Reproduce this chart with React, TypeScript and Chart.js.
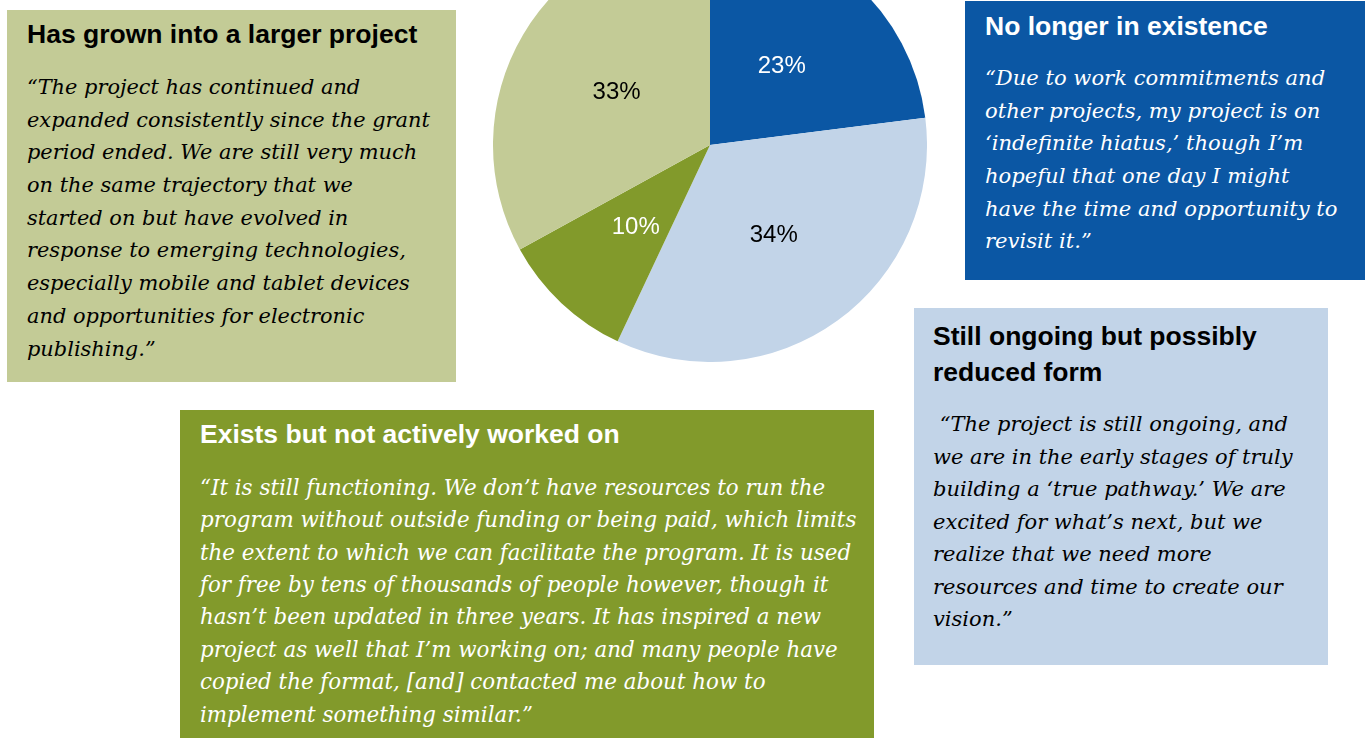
import React, { useEffect, useRef } from "react";
import { Chart, registerables } from "chart.js";

Chart.register(...registerables);

const categories = [
  "No longer in existence",
  "Still ongoing but possibly reduced form",
  "Exists but not actively worked on",
  "Has grown into a larger project",
];
const values = [23, 34, 10, 33];
const sliceColors = ["#0B57A4", "#C2D4E8", "#829A2B", "#C3CB96"];
const labelColors = ["#FFFFFF", "#000000", "#FFFFFF", "#000000"];

const grownHeading = ["Has grown into a larger project"];
const grownQuote = [
  "\u201CThe project has continued and",
  "expanded consistently since the grant",
  "period ended. We are still very much",
  "on the same trajectory that we",
  "started on but have evolved in",
  "response to emerging technologies,",
  "especially mobile and tablet devices",
  "and opportunities for electronic",
  "publishing.\u201D",
];
const goneHeading = ["No longer in existence"];
const goneQuote = [
  "\u201CDue to work commitments and",
  "other projects, my project is on",
  "\u2018indefinite hiatus,\u2019 though I\u2019m",
  "hopeful that one day I might",
  "have the time and opportunity to",
  "revisit it.\u201D",
];
const idleHeading = ["Exists but not actively worked on"];
const idleQuote = [
  "\u201CIt is still functioning. We don\u2019t have resources to run the",
  "program without outside funding or being paid, which limits",
  "the extent to which we can facilitate the program. It is used",
  "for free by tens of thousands of people however, though it",
  "hasn\u2019t been updated in three years. It has inspired a new",
  "project as well that I\u2019m working on; and many people have",
  "copied the format, [and] contacted me about how to",
  "implement something similar.\u201D",
];
const ongoingHeading = ["Still ongoing but possibly", "reduced form"];
const ongoingQuote = [
  "\u00A0\u201CThe project is still ongoing, and",
  "we are in the early stages of truly",
  "building a \u2018true pathway.\u2019 We are",
  "excited for what\u2019s next, but we",
  "realize that we need more",
  "resources and time to create our",
  "vision.\u201D",
];

const HEAD_FONT = "'Liberation Sans', Arial, sans-serif";
const QUOTE_FONT = "'DejaVu Serif', Georgia, serif";

type BoxProps = {
  left: number;
  top: number;
  width: number;
  height: number;
  bg: string;
  color: string;
  padTop: number;
  padLeft: number;
  headLH: number;
  gap: number;
  quoteLH: number;
  quoteSize: number;
  heading: string[];
  quote: string[];
};

function Box(p: BoxProps) {
  return (
    <div
      style={{
        position: "absolute",
        left: p.left,
        top: p.top,
        width: p.width,
        height: p.height,
        background: p.bg,
        color: p.color,
        boxSizing: "border-box",
        paddingTop: p.padTop,
        paddingLeft: p.padLeft,
        overflow: "hidden",
      }}
    >
      {p.heading.map((h, i) => (
        <div
          key={"h" + i}
          style={{
            fontFamily: HEAD_FONT,
            fontWeight: "bold",
            fontSize: 26.5,
            lineHeight: p.headLH + "px",
            height: p.headLH,
            whiteSpace: "nowrap",
          }}
        >
          {h}
        </div>
      ))}
      <div style={{ height: p.gap }} />
      {p.quote.map((q, i) => (
        <div
          key={"q" + i}
          style={{
            fontFamily: QUOTE_FONT,
            fontStyle: "italic",
            fontSize: p.quoteSize,
            lineHeight: p.quoteLH + "px",
            height: p.quoteLH,
            whiteSpace: "nowrap",
          }}
        >
          {q}
        </div>
      ))}
    </div>
  );
}

export default function App() {
  const canvasRef = useRef<HTMLCanvasElement | null>(null);

  useEffect(() => {
    const canvas = canvasRef.current;
    if (!canvas) return;
    const labelPlugin = {
      id: "sliceLabels",
      afterDatasetsDraw(chart: any) {
        const ctx = chart.ctx;
        const meta = chart.getDatasetMeta(0);
        ctx.save();
        ctx.font = "24px 'Liberation Sans', Arial, sans-serif";
        ctx.textAlign = "center";
        ctx.textBaseline = "middle";
        meta.data.forEach((arc: any, i: number) => {
          const pos = arc.tooltipPosition();
          ctx.fillStyle = labelColors[i];
          ctx.fillText(values[i] + "%", pos.x, pos.y + 3);
        });
        ctx.restore();
      },
    };
    const chart = new Chart(canvas, {
      type: "pie",
      data: {
        labels: categories,
        datasets: [
          {
            data: values,
            backgroundColor: sliceColors,
            borderWidth: 0,
            hoverOffset: 0,
            offset: 0,
          },
        ],
      },
      options: {
        responsive: false,
        animation: false,
        layout: { padding: 0 },
        plugins: {
          legend: { display: false },
          tooltip: { enabled: false },
        },
        events: [],
      },
      plugins: [labelPlugin],
    });
    return () => chart.destroy();
  }, []);

  return (
    <div
      style={{
        position: "fixed",
        left: 0,
        top: 0,
        width: 1369,
        height: 738,
        overflow: "hidden",
        background: "#FFFFFF",
      }}
    >
      <canvas
        ref={canvasRef}
        width={434}
        height={434}
        style={{ position: "absolute", left: 493, top: -72, width: 434, height: 434 }}
      />
      <Box
        left={7}
        top={10}
        width={449}
        height={372}
        bg="#C3CB96"
        color="#000000"
        padTop={9}
        padLeft={20}
        headLH={30}
        gap={22}
        quoteLH={32.7}
        quoteSize={20.9}
        heading={grownHeading}
        quote={grownQuote}
      />
      <Box
        left={965}
        top={1}
        width={400}
        height={279}
        bg="#0B57A4"
        color="#FFFFFF"
        padTop={10}
        padLeft={20}
        headLH={30}
        gap={21}
        quoteLH={32.7}
        quoteSize={21.1}
        heading={goneHeading}
        quote={goneQuote}
      />
      <Box
        left={180}
        top={410}
        width={694}
        height={340}
        bg="#829A2B"
        color="#FFFFFF"
        padTop={9.3}
        padLeft={20}
        headLH={30}
        gap={22.5}
        quoteLH={32.4}
        quoteSize={21.4}
        heading={idleHeading}
        quote={idleQuote}
      />
      <Box
        left={914}
        top={308}
        width={414}
        height={357}
        bg="#C2D4E8"
        color="#000000"
        padTop={9.6}
        padLeft={19}
        headLH={36.7}
        gap={17.5}
        quoteLH={32.5}
        quoteSize={21}
        heading={ongoingHeading}
        quote={ongoingQuote}
      />
    </div>
  );
}
